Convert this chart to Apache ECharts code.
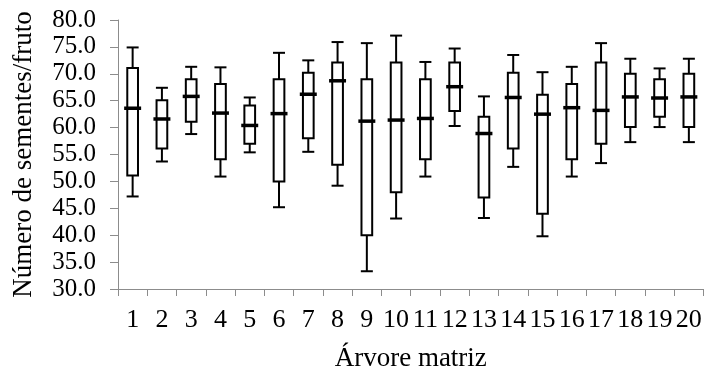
<!DOCTYPE html>
<html>
<head>
<meta charset="utf-8">
<script src="https://cdn.jsdelivr.net/npm/echarts@6/dist/echarts.min.js"></script>
<style>
  html, body { margin: 0; padding: 0; background: #fff; }
  #chart { width: 707px; height: 371px; }
</style>
</head>
<body>
<div id="chart"></div>
<script>
// Seeds per fruit for each mother tree (box-and-whisker summary)
const categories = ['1','2','3','4','5','6','7','8','9','10','11','12','13','14','15','16','17','18','19','20'];
const whiskerLow  = [47.2, 53.7, 58.8, 50.9, 55.4, 45.2, 55.5, 49.2, 33.3, 43.1, 50.9, 60.3, 43.2, 52.7, 39.8, 50.9, 53.4, 57.3, 60.1, 57.3];
const quartile1   = [51.1, 56.1, 61.1, 54.1, 57.0, 50.0, 58.0, 53.1, 40.0, 48.0, 54.1, 63.1, 47.0, 56.1, 44.0, 54.1, 57.0, 60.1, 62.0, 60.1];
const medians     = [63.6, 61.6, 65.8, 62.7, 60.4, 62.6, 66.2, 68.7, 61.2, 61.4, 61.7, 67.6, 58.9, 65.6, 62.5, 63.7, 63.2, 65.7, 65.5, 65.7];
const quartile3   = [71.1, 65.1, 69.0, 68.1, 64.1, 69.0, 70.2, 72.1, 69.0, 72.1, 69.0, 72.1, 62.0, 70.2, 66.1, 68.1, 72.1, 70.0, 69.0, 70.0];
const whiskerHigh = [74.9, 67.4, 71.3, 71.2, 65.6, 73.9, 72.5, 75.9, 75.7, 77.1, 72.2, 74.7, 65.8, 73.5, 70.3, 71.3, 75.7, 72.8, 71.0, 72.8];
const yTicks = { min: 30, max: 80, interval: 5 };

const serif = '"Liberation Serif", "Times New Roman", serif';
const axisGray = '#8c8c8c';

const seriesData = categories.map((c, i) =>
  [i, whiskerLow[i], quartile1[i], medians[i], quartile3[i], whiskerHigh[i]]);

function renderBox(params, api) {
  const idx = api.value(0);
  const bandW = api.size([1, 0])[0];
  const pLow = api.coord([idx, api.value(1)]);
  const pQ1 = api.coord([idx, api.value(2)]);
  const pMed = api.coord([idx, api.value(3)]);
  const pQ3 = api.coord([idx, api.value(4)]);
  const pHigh = api.coord([idx, api.value(5)]);
  const x = pMed[0];
  const halfBox = bandW * 0.183;
  const halfCap = bandW * 0.205;
  const halfMed = bandW * 0.29;
  const line = { stroke: '#000', lineWidth: 2 };
  return {
    type: 'group',
    children: [
      { type: 'line', shape: { x1: x, y1: pHigh[1], x2: x, y2: pQ3[1] }, style: line },
      { type: 'line', shape: { x1: x, y1: pQ1[1], x2: x, y2: pLow[1] }, style: line },
      { type: 'line', shape: { x1: x - halfCap, y1: pHigh[1], x2: x + halfCap, y2: pHigh[1] }, style: line },
      { type: 'line', shape: { x1: x - halfCap, y1: pLow[1], x2: x + halfCap, y2: pLow[1] }, style: line },
      { type: 'rect', shape: { x: x - halfBox, y: pQ3[1], width: halfBox * 2, height: pQ1[1] - pQ3[1] },
        style: { fill: '#fff', stroke: '#000', lineWidth: 2 } },
      { type: 'line', shape: { x1: x - halfMed, y1: pMed[1], x2: x + halfMed, y2: pMed[1] },
        style: { stroke: '#000', lineWidth: 3.5 } }
    ]
  };
}

const chart = echarts.init(document.getElementById('chart'), null, { renderer: 'canvas' });
chart.setOption({
  animation: false,
  backgroundColor: '#fff',
  grid: { left: 118, right: 3.5, top: 20, bottom: 82, containLabel: false, outerBoundsMode: 'none' },
  xAxis: {
    type: 'category',
    data: categories,
    boundaryGap: true,
    name: 'Árvore matriz',
    nameLocation: 'middle',
    nameGap: 56,
    nameTextStyle: { fontFamily: serif, fontSize: 27, color: '#000' },
    axisLine: { show: true, lineStyle: { color: axisGray, width: 1 } },
    axisTick: { show: true, alignWithLabel: false, length: 7, lineStyle: { color: axisGray } },
    axisLabel: { fontFamily: serif, fontSize: 26, color: '#000', margin: 18, interval: 0 },
    splitLine: { show: false }
  },
  yAxis: {
    type: 'value',
    min: yTicks.min,
    max: yTicks.max,
    interval: yTicks.interval,
    name: 'Número de sementes/fruto',
    nameLocation: 'middle',
    nameGap: 94,
    nameRotate: 90,
    nameTextStyle: { fontFamily: serif, fontSize: 27, color: '#000', verticalAlign: 'middle' },
    axisLine: { show: true, lineStyle: { color: axisGray, width: 1 } },
    axisTick: { show: true, length: 8, lineStyle: { color: axisGray } },
    axisLabel: { fontFamily: serif, fontSize: 25, color: '#000', margin: 22,
      formatter: v => v.toFixed(1) },
    splitLine: { show: false }
  },
  series: [{
    type: 'custom',
    renderItem: renderBox,
    encode: { x: 0, y: [1, 2, 3, 4, 5] },
    data: seriesData,
    clip: false
  }]
});
</script>
</body>
</html>
